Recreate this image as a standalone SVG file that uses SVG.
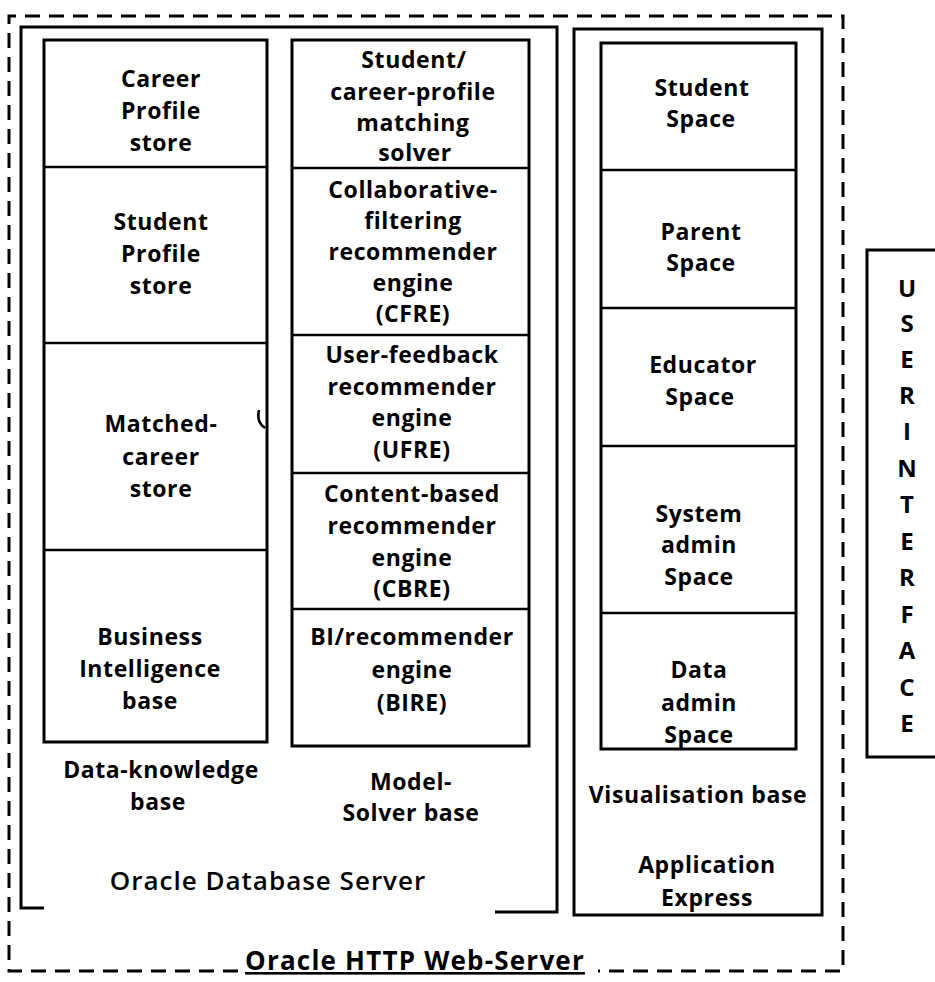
<svg xmlns="http://www.w3.org/2000/svg" width="935" height="982" viewBox="0 0 935 982">
<style>
.box{fill:none;stroke:#000;stroke-width:3}
.dv{stroke:#000;stroke-width:2.5}
.dash{fill:none;stroke:#000;stroke-width:3;stroke-dasharray:15 9}
.t{font-family:'Open Sans','Liberation Sans',sans-serif;font-weight:700;font-size:23px;text-anchor:middle;fill:#000;letter-spacing:0.6px}
.ui{font-family:'Open Sans','Liberation Sans',sans-serif;font-weight:700;font-size:24px;text-anchor:middle;fill:#000}
.lbl{font-family:'Open Sans','Liberation Sans',sans-serif;font-weight:600;font-size:26px;text-anchor:middle;fill:#000;letter-spacing:1px}
</style>
<rect x="0" y="0" width="935" height="982" fill="#fff"/>

<g id="web-server">
<path class="dash" d="M238,971 L9,971 L9,16 L843,16 L843,971 L598,971"/>
<text class="t" x="415" y="970" text-decoration="underline" style="font-size:26px;letter-spacing:1.2px">Oracle HTTP Web-Server</text>
</g>

<g id="db-server">
<path class="box" d="M44,908 L21,908 L21,27 L557,27 L557,912 L495,912"/>
<text class="lbl" x="268" y="890">Oracle Database Server</text>
</g>

<g id="data-knowledge-base">
<rect class="box" x="44" y="40" width="223" height="702"/>
<line class="dv" x1="44" y1="167" x2="267" y2="167"/>
<line class="dv" x1="44" y1="343" x2="267" y2="343"/>
<line class="dv" x1="44" y1="550" x2="267" y2="550"/>
<text class="t" x="161" y="778">Data-knowledge</text>
<text class="t" x="158" y="810">base</text>
<path d="M259,410 q-3,12 6,18" fill="none" stroke="#000" stroke-width="2.5"/>
</g>
<g id="career-profile-store">
<text class="t" x="161" y="87">Career</text>
<text class="t" x="161" y="119">Profile</text>
<text class="t" x="161" y="151">store</text>
</g>
<g id="student-profile-store">
<text class="t" x="161" y="230">Student</text>
<text class="t" x="161" y="262">Profile</text>
<text class="t" x="161" y="294">store</text>
</g>
<g id="matched-career-store">
<text class="t" x="161" y="432">Matched-</text>
<text class="t" x="161" y="465">career</text>
<text class="t" x="161" y="497">store</text>
</g>
<g id="business-intelligence-base">
<text class="t" x="150" y="645">Business</text>
<text class="t" x="150" y="677">Intelligence</text>
<text class="t" x="150" y="709">base</text>
</g>

<g id="model-solver-base">
<rect class="box" x="292" y="40" width="237" height="706"/>
<line class="dv" x1="292" y1="168" x2="529" y2="168"/>
<line class="dv" x1="292" y1="335" x2="529" y2="335"/>
<line class="dv" x1="292" y1="473" x2="529" y2="473"/>
<line class="dv" x1="292" y1="609" x2="529" y2="609"/>
<text class="t" x="411" y="790">Model-</text>
<text class="t" x="411" y="821">Solver base</text>
</g>
<g id="matching-solver">
<text class="t" x="414" y="68">Student/</text>
<text class="t" x="413" y="100">career-profile</text>
<text class="t" x="413" y="131">matching</text>
<text class="t" x="415" y="161">solver</text>
</g>
<g id="cfre">
<text class="t" x="413" y="198">Collaborative-</text>
<text class="t" x="413" y="229">filtering</text>
<text class="t" x="413" y="260">recommender</text>
<text class="t" x="413" y="291">engine</text>
<text class="t" x="413" y="322">(CFRE)</text>
</g>
<g id="ufre">
<text class="t" x="412" y="363">User-feedback</text>
<text class="t" x="412" y="395">recommender</text>
<text class="t" x="412" y="426">engine</text>
<text class="t" x="412" y="458">(UFRE)</text>
</g>
<g id="cbre">
<text class="t" x="412" y="502">Content-based</text>
<text class="t" x="412" y="534">recommender</text>
<text class="t" x="412" y="566">engine</text>
<text class="t" x="412" y="597">(CBRE)</text>
</g>
<g id="bire">
<text class="t" x="412" y="645">BI/recommender</text>
<text class="t" x="412" y="678">engine</text>
<text class="t" x="412" y="711">(BIRE)</text>
</g>

<g id="application-express">
<rect class="box" x="574" y="29" width="248" height="886"/>
<text class="t" x="707" y="873">Application</text>
<text class="t" x="707" y="906">Express</text>
</g>
<g id="visualisation-base">
<rect class="box" x="601" y="43" width="195" height="706"/>
<line class="dv" x1="601" y1="170" x2="796" y2="170"/>
<line class="dv" x1="601" y1="308" x2="796" y2="308"/>
<line class="dv" x1="601" y1="446" x2="796" y2="446"/>
<line class="dv" x1="601" y1="613" x2="796" y2="613"/>
<text class="t" x="698" y="803">Visualisation base</text>
</g>
<g id="student-space">
<text class="t" x="702" y="96">Student</text>
<text class="t" x="701" y="127">Space</text>
</g>
<g id="parent-space">
<text class="t" x="701" y="240">Parent</text>
<text class="t" x="701" y="271">Space</text>
</g>
<g id="educator-space">
<text class="t" x="703" y="373">Educator</text>
<text class="t" x="700" y="405">Space</text>
</g>
<g id="system-admin-space">
<text class="t" x="699" y="522">System</text>
<text class="t" x="699" y="553">admin</text>
<text class="t" x="699" y="585">Space</text>
</g>
<g id="data-admin-space">
<text class="t" x="699" y="678">Data</text>
<text class="t" x="699" y="711">admin</text>
<text class="t" x="699" y="743">Space</text>
</g>

<g id="user-interface">
<path class="box" d="M940,250 L867,250 L867,757 L940,757"/>
<text class="ui" x="907" y="297">U</text>
<text class="ui" x="907" y="332">S</text>
<text class="ui" x="907" y="368">E</text>
<text class="ui" x="907" y="404">R</text>
<text class="ui" x="907" y="440">I</text>
<text class="ui" x="907" y="477">N</text>
<text class="ui" x="907" y="513">T</text>
<text class="ui" x="907" y="550">E</text>
<text class="ui" x="907" y="586">R</text>
<text class="ui" x="907" y="623">F</text>
<text class="ui" x="907" y="659">A</text>
<text class="ui" x="907" y="696">C</text>
<text class="ui" x="907" y="732">E</text>
</g>

<g id="connectors"></g>
</svg>
